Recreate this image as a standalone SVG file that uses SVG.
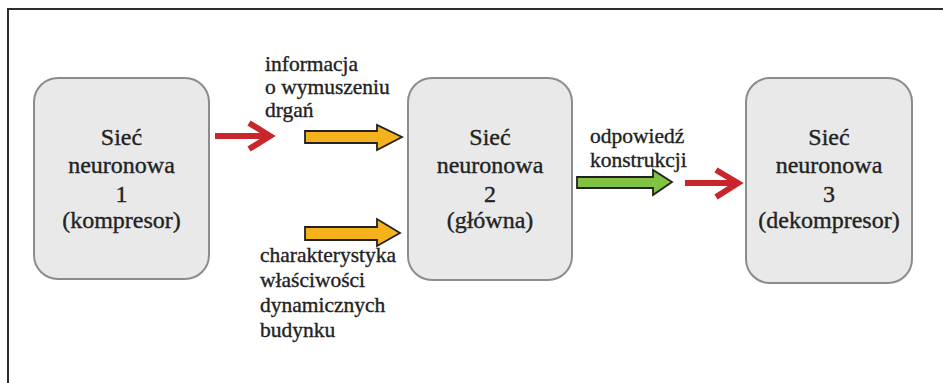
<svg xmlns="http://www.w3.org/2000/svg" width="943" height="383" viewBox="0 0 943 383">
<style>
.box{fill:#e9e9ea;stroke:#8c8c8c;stroke-width:2}
text{font-family:'Liberation Serif','DejaVu Serif','Times New Roman',serif;fill:#222222;stroke:#222222;stroke-width:0.35}
.bt{font-size:24px;text-anchor:middle}
.lt{font-size:21.5px}
.red{fill:none;stroke:#c9262b;stroke-width:6;stroke-linejoin:miter}
.yel{fill:#f5b21d;stroke:#222;stroke-width:1.8;stroke-linejoin:miter}
.grn{fill:#80c241;stroke:#222;stroke-width:1.8;stroke-linejoin:miter}
</style>
<rect width="943" height="383" fill="#ffffff"/>
<path d="M8 383V9H943" fill="none" stroke="#2e2e2e" stroke-width="2"/>
<g id="node1">
<rect class="box" x="34" y="78" width="175" height="201" rx="24"/>
<text class="bt" x="121.5" y="145">Sieć</text>
<text class="bt" x="121.5" y="173">neuronowa</text>
<text class="bt" x="121.5" y="202">1</text>
<text class="bt" x="121.5" y="228">(kompresor)</text>
</g>
<g id="node2">
<rect class="box" x="408" y="78" width="164" height="202" rx="24"/>
<text class="bt" x="490" y="145">Sieć</text>
<text class="bt" x="490" y="173">neuronowa</text>
<text class="bt" x="490" y="202">2</text>
<text class="bt" x="490" y="228">(główna)</text>
</g>
<g id="node3">
<rect class="box" x="746" y="78" width="166" height="205" rx="24"/>
<text class="bt" x="829" y="145">Sieć</text>
<text class="bt" x="829" y="173">neuronowa</text>
<text class="bt" x="829" y="202">3</text>
<text class="bt" x="829" y="228">(dekompresor)</text>
</g>
<g id="labels">
<text class="lt" x="265" y="71">informacja</text>
<text class="lt" x="265" y="94">o wymuszeniu</text>
<text class="lt" x="265" y="117">drgań</text>
<text class="lt" x="260" y="262">charakterystyka</text>
<text class="lt" x="260" y="287">właściwości</text>
<text class="lt" x="260" y="312">dynamicznych</text>
<text class="lt" x="260" y="337">budynku</text>
<text class="lt" x="590" y="143">odpowiedź</text>
<text class="lt" x="590" y="167">konstrukcji</text>
</g>
<g id="connectors">
<path class="red" d="M215 136H268M249 123L270 136L249 149"/>
<path class="yel" d="M305 131H377V125L402 137L377 150V143H305Z"/>
<path class="yel" d="M305 227H377V219L400 233L377 246V240H305Z"/>
<path class="grn" d="M577 177H653V170L672 182L653 195V188H577Z"/>
<path class="red" d="M685 183H736M716 170L738 183L716 197"/>
</g>
</svg>
